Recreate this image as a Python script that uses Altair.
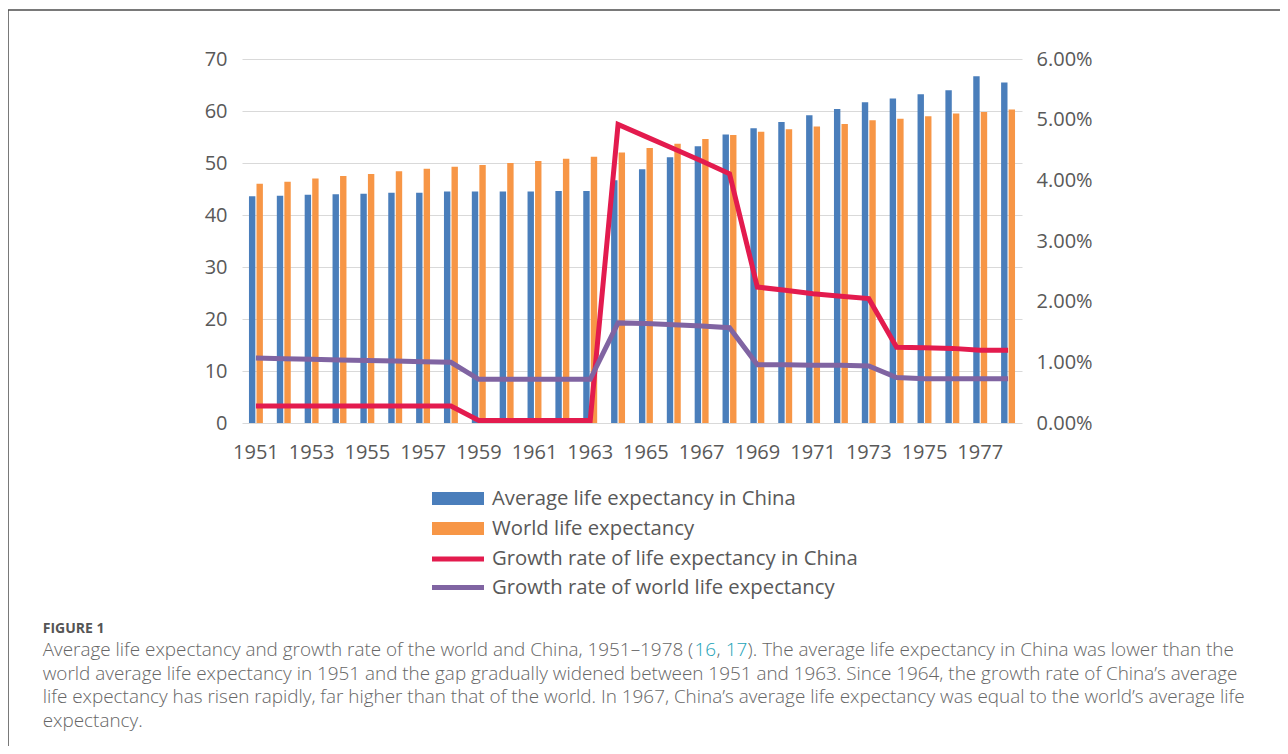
import altair as alt
import pandas as pd

years = list(range(1951, 1979))
china_le = [43.6, 43.7, 43.9, 44.0, 44.1, 44.3, 44.3, 44.5, 44.5, 44.5, 44.5, 44.6, 44.6, 46.7,
            48.8, 51.1, 53.2, 55.5, 56.7, 57.9, 59.2, 60.4, 61.7, 62.4, 63.2, 64.0, 66.7, 65.5]
world_le = [46.0, 46.4, 47.0, 47.5, 47.9, 48.4, 48.9, 49.3, 49.6, 50.0, 50.4, 50.8, 51.2, 52.0,
            52.9, 53.7, 54.6, 55.4, 56.0, 56.5, 57.0, 57.5, 58.2, 58.5, 59.0, 59.5, 59.8, 60.3]
# growth rates in percent
china_gr = [0.28, 0.28, 0.28, 0.28, 0.28, 0.28, 0.28, 0.28, 0.04, 0.04, 0.04, 0.04, 0.04, 4.92,
            4.72, 4.52, 4.32, 4.11, 2.24, 2.19, 2.13, 2.09, 2.05, 1.25, 1.24, 1.23, 1.20, 1.20]
world_gr = [1.07, 1.06, 1.05, 1.04, 1.03, 1.02, 1.01, 1.00, 0.72, 0.72, 0.72, 0.72, 0.72, 1.65,
            1.64, 1.62, 1.60, 1.57, 0.96, 0.96, 0.95, 0.95, 0.94, 0.75, 0.73, 0.73, 0.73, 0.73]

bar_series = ["Average life expectancy in China", "World life expectancy"]
line_series = ["Growth rate of life expectancy in China", "Growth rate of world life expectancy"]
bar_colors = ["#4A7EBB", "#F79646"]
line_colors = ["#E31B4E", "#8064A2"]
x_label_years = list(range(1951, 1979, 2))

caption_head = "FIGURE 1"
caption_first = [
    ("Average life expectancy and growth rate of the world and China, 1951\u20131978 (", "#666666", 42.7),
    ("16", "#1BA3B8", 694.5),
    (",", "#666666", 716.4),
    ("17", "#1BA3B8", 725.8),
    ("). The average life expectancy in China was lower than the", "#666666", 747.6),
]
caption_rest = [
    "world average life expectancy in 1951 and the gap gradually widened between 1951 and 1963. Since 1964, the growth rate of China\u2019s average",
    "life expectancy has risen rapidly, far higher than that of the world. In 1967, China\u2019s average life expectancy was equal to the world\u2019s average life",
    "expectancy.",
]

bar_df = pd.DataFrame({
    "year": years * 2,
    "series": [bar_series[0]] * len(years) + [bar_series[1]] * len(years),
    "value": china_le + world_le,
})
line_df = pd.DataFrame({
    "year": years * 2,
    "series": [line_series[0]] * len(years) + [line_series[1]] * len(years),
    "rate": [v / 100 for v in china_gr] + [v / 100 for v in world_gr],
})

W, H = 780, 364
PL, PT, PR, PB = 234, 51, 258, 323
OX, OY = 8 + PL, 8 + PT  # page position of plot origin
FONT = "Open Sans"
GRAY = "#595959"
CAP_SIZE = 18.9

x_enc = alt.X(
    "year:O",
    scale=alt.Scale(paddingInner=0.5, paddingOuter=0.25),
    axis=alt.Axis(title=None, values=x_label_years, labelAngle=0, ticks=False, tickSize=0,
                  domain=False, labelFont=FONT, labelFontSize=20, labelColor=GRAY,
                  labelPadding=19, grid=False),
)

bars = alt.Chart(bar_df).mark_bar().encode(
    x=x_enc,
    xOffset=alt.XOffset("series:N", scale=alt.Scale(domain=bar_series, paddingInner=0.15)),
    y=alt.Y("value:Q", scale=alt.Scale(domain=[0, 70], nice=False),
            axis=alt.Axis(title=None, values=list(range(0, 71, 10)), ticks=False, domain=False,
                          grid=True, gridColor="#D9D9D9", gridWidth=1.2,
                          labelFont=FONT, labelFontSize=20, labelColor=GRAY, labelPadding=15)),
    fill=alt.Fill("series:N", scale=alt.Scale(domain=bar_series, range=bar_colors),
                  legend=alt.Legend(title=None, orient="none", legendX=203, legendY=426.5,
                                    symbolType="M-2,-0.5L2,-0.5L2,0.5L-2,0.5Z", symbolSize=676,
                                    symbolStrokeWidth=0, labelOffset=21, labelFont=FONT,
                                    labelFontSize=20.3, labelColor=GRAY, labelLimit=600,
                                    padding=0, rowPadding=6)),
)

lines = alt.Chart(line_df).mark_line(strokeWidth=5).encode(
    x=alt.X("year:O"),
    y=alt.Y("rate:Q", scale=alt.Scale(domain=[0, 0.06], nice=False),
            axis=alt.Axis(title=None, orient="right", format=".2%",
                          values=[0, 0.01, 0.02, 0.03, 0.04, 0.05, 0.06], ticks=False,
                          domain=False, grid=False, labelFont=FONT, labelFontSize=20,
                          labelColor=GRAY, labelPadding=14)),
    stroke=alt.Stroke("series:N", scale=alt.Scale(domain=line_series, range=line_colors),
                      legend=alt.Legend(title=None, orient="none", legendX=200.5, legendY=484.5,
                                        symbolType="M-2,0L2,0", symbolSize=676,
                                        symbolStrokeWidth=5, labelOffset=18.5, labelFont=FONT,
                                        labelFontSize=20.3, labelColor=GRAY, labelLimit=600,
                                        padding=0, rowPadding=2.5)),
)

one = pd.DataFrame({"k": [0]})

frame_top = alt.Chart(one).mark_rule(color="#4D4D4D", strokeWidth=1.5).encode(
    x=alt.value(-PL), x2=alt.value(W + PR), y=alt.value(10 - OY))
frame_left = alt.Chart(one).mark_rule(color="#4D4D4D", strokeWidth=1.5).encode(
    x=alt.value(-PL), y=alt.value(10 - OY), y2=alt.value(H + PB))

cap_x = 42.7 - OX
head = alt.Chart(pd.DataFrame({"t": [caption_head]})).mark_text(
    align="left", baseline="alphabetic", font=FONT, fontSize=14, fontWeight="bold", color="#555555"
).encode(text="t:N", x=alt.value(cap_x), y=alt.value(632.5 - OY))

cap_layers = []
first_base = 656.0
for txt, col, px in caption_first:
    cap_layers.append(
        alt.Chart(pd.DataFrame({"t": [txt]})).mark_text(
            align="left", baseline="alphabetic", font=FONT, fontSize=CAP_SIZE, fontWeight=300, color=col
        ).encode(text="t:N", x=alt.value(px - OX), y=alt.value(first_base - OY))
    )
for i, line in enumerate(caption_rest):
    cap_layers.append(
        alt.Chart(pd.DataFrame({"t": [line]})).mark_text(
            align="left", baseline="alphabetic", font=FONT, fontSize=CAP_SIZE, fontWeight=300,
            color="#666666"
        ).encode(text="t:N", x=alt.value(cap_x), y=alt.value(first_base - OY + (i + 1) * 23.7))
    )

chart = alt.layer(bars, lines, frame_top, frame_left, head, *cap_layers).resolve_scale(
    y="independent", fill="independent", stroke="independent"
).properties(
    width=W, height=H,
    padding={"left": PL, "top": PT, "right": PR, "bottom": PB},
    autosize=alt.AutoSizeParams(type="none"),
).configure_view(stroke=None)

chart.save("out.html", embed_options={"renderer": "svg", "actions": False})
